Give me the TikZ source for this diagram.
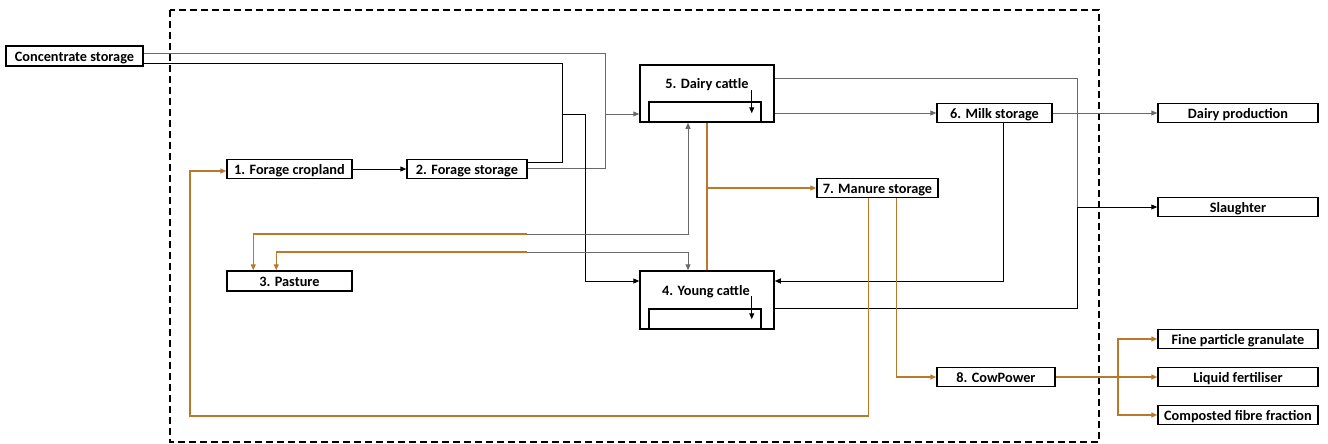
\documentclass[tikz,border=0pt]{standalone}
\usepackage{fontspec}
\setmainfont{Carlito}
\usetikzlibrary{arrows.meta,calc}
\definecolor{ochre}{RGB}{185,120,42}
\definecolor{lgray}{RGB}{105,105,105}
\tikzset{
  box/.style={draw, line width=1.5pt, font=\bfseries\fontsize{14.3}{16}\selectfont, inner sep=0pt, text height=10.5pt, text depth=0pt, minimum height=19pt},
  big/.style={draw, line width=1.5pt, inner sep=0pt},
  lbl/.style={font=\bfseries\fontsize{14.3}{16}\selectfont, inner sep=0pt, text height=10.5pt, text depth=0pt},
  arr/.style={-{Triangle[length=6pt,width=5pt]}},
  bl/.style={draw=black, line width=1pt},
  gl/.style={draw=lgray, line width=1pt},
  ol/.style={draw=ochre, line width=1.4pt},
  boundary/.style={line width=1.5pt, dash pattern=on 7pt off 4pt}
}
\begin{document}
\begin{tikzpicture}[x=1pt,y=-1pt]
\useasboundingbox (0,0) rectangle (1328,444);
\draw[boundary] (170,10) rectangle (1099,442);

% nodes
\node[box, minimum width=137pt, minimum height=20pt] (conc) at (74.5,56) {Concentrate storage};
\node[box, minimum width=125pt] (fc) at (289.5,169) {1. Forage cropland};
\node[box, minimum width=120pt] (fs) at (467,169) {2. Forage storage};
\node[box, minimum width=125pt, minimum height=20pt] (past) at (289.5,281) {3. Pasture};
\node[big, minimum width=134pt, minimum height=58pt] (yc) at (707,300) {};
\node[big, minimum width=112pt, minimum height=20pt] (yci) at (705,319) {};
\node[lbl] (ycl) at (706,290) {4. Young cattle};
\node[big, minimum width=134pt, minimum height=57pt] (dc) at (707,93.5) {};
\node[big, minimum width=112pt, minimum height=20pt] (dci) at (705,112) {};
\node[lbl] (dcl) at (707,83.5) {5. Dairy cattle};
\node[box, minimum width=115pt] (ms) at (994.5,113) {6. Milk storage};
\node[box, minimum width=121pt] (man) at (877.5,188) {7. Manure storage};
\node[box, minimum width=118pt] (cp) at (996,377) {8. CowPower};
\node[box, minimum width=160pt] (dp) at (1238,113) {Dairy production};
\node[box, minimum width=160pt] (sl) at (1238,207) {Slaughter};
\node[box, minimum width=160pt] (fpg) at (1238,339) {Fine particle granulate};
\node[box, minimum width=160pt] (lf) at (1238,377) {Liquid fertiliser};
\node[box, minimum width=160pt] (cff) at (1238,415) {Composted fibre fraction};

% coordinates
\coordinate (v1) at (605,168);
\coordinate (j1) at (605,114);
\coordinate (v2) at (562,162);
\coordinate (j2) at (562,114);
\coordinate (k) at (585,281);
\coordinate (r1) at (1077,207);
\coordinate (m1) at (1003,281);
\coordinate (p1) at (527,234);
\coordinate (p2) at (527,252);
\coordinate (b1) at (190,416);
\coordinate (b2) at (190,171);
\coordinate (q) at (1118,377);

% concentrate + forage -> dairy cattle (gray)
\draw[gl] ($(conc.east)+(0,-2)$) -| (v1) -- (v1 -| fs.east);
\draw[gl,arr] (j1) -- (j1 -| dc.west);
% concentrate + forage -> young cattle (black)
\draw[bl] ($(conc.east)+(0,8)$) -| (v2) -- (v2 -| fs.east);
\draw[bl,arr] (j2) -| (k) -- (k -| yc.west);
% forage cropland -> forage storage
\draw[bl,arr] (fc) -- (fs);

% cattle -> slaughter
\draw[gl] ($(dc.east)+(0,-14.5)$) -| (r1);
\draw[bl] ($(yc.east)+(0,8)$) -| (r1);
\draw[bl,arr] (r1) -- (r1 -| sl.west);
% dairy -> milk -> dairy production
\draw[gl,arr] (dc.east |- ms.west) -- (ms.west);
\draw[gl,arr] (ms) -- (dp);
% milk storage -> young cattle
\draw[bl,arr] (ms.south -| m1) -- (m1) -- (m1 -| yc.east);

% manure from cattle
\draw[ol] (dc.south) -- (yc.north);
\draw[ol,arr] (dc.south |- man.west) -- (man.west);

% pasture links
\draw[ol,arr] (p1) -| ($(past.north west)+(27,0)$);
\draw[gl,arr] (p1) -| ($(dc.south)+(-19,0)$);
\draw[ol,arr] (p2) -| ($(past.north west)+(50,0)$);
\draw[gl,arr] (p2) -| ($(yc.north)+(-19,0)$);

% manure storage outputs
\draw[ol,arr] ($(man.south west)+(52,0)$) |- (b1) -- (b2) -- (b2 -| fc.west);
\draw[ol,arr] ($(man.south west)+(80,0)$) |- (cp.west);

% CowPower outputs
\draw[ol,arr] (cp.east) -- (cp.east -| lf.west);
\draw[ol,arr] (q) |- (fpg.west);
\draw[ol,arr] (q) |- (cff.west);

% small internal arrows
\draw[bl,arr] ($(dci.north east)+(-10,-11)$) -- ($(dci.north east)+(-10,12)$);
\draw[bl,arr] ($(yci.north east)+(-10,-12)$) -- ($(yci.north east)+(-10,11)$);
\end{tikzpicture}
\end{document}
